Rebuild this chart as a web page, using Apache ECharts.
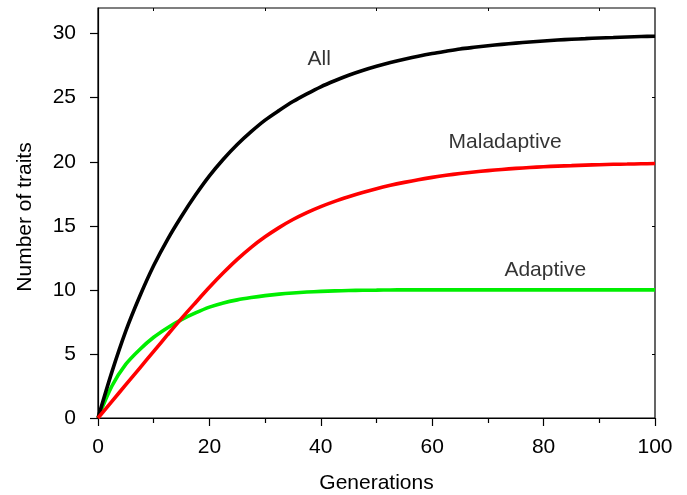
<!DOCTYPE html>
<html><head><meta charset="utf-8">
<script src="https://cdn.jsdelivr.net/npm/echarts@6/dist/echarts.min.js"></script>
<style>html,body{margin:0;padding:0;background:#fff}#c{width:687px;height:495px}</style>
</head><body><div id="c"></div>
<script>
var generations = [0,2.5,5,7.5,10,12.5,15,17.5,20,22.5,25,27.5,30,32.5,35,37.5,40,42.5,45,47.5,50,52.5,55,57.5,60,62.5,65,67.5,70,72.5,75,77.5,80,82.5,85,87.5,90,92.5,95,97.5,100];
var allTraits = [0,3.6,6.8,9.5,11.9,13.95,15.75,17.4,18.9,20.2,21.35,22.35,23.25,24.0,24.7,25.3,25.85,26.32,26.75,27.12,27.45,27.74,28.0,28.24,28.45,28.63,28.8,28.93,29.05,29.16,29.26,29.35,29.43,29.5,29.56,29.61,29.66,29.7,29.74,29.77,29.8];
var maladaptive = [0,1.3,2.6,3.9,5.2,6.5,7.78,9.0,10.2,11.33,12.38,13.32,14.14,14.86,15.49,16.03,16.5,16.91,17.27,17.6,17.9,18.16,18.39,18.6,18.78,18.94,19.08,19.2,19.31,19.4,19.48,19.55,19.61,19.66,19.7,19.74,19.77,19.8,19.82,19.84,19.86];
var adaptive = [0,2.5,4.2,5.35,6.3,7.05,7.68,8.2,8.65,8.98,9.22,9.4,9.55,9.67,9.76,9.83,9.88,9.92,9.95,9.97,9.98,9.99,10,10,10,10,10,10,10,10,10,10,10,10,10,10,10,10,10,10,10];
var yTicks = [0,5,10,15,20,25,30];
var curveLabels = [
  {name:'All', x:39.7, y:28.0},
  {name:'Maladaptive', x:73.1, y:21.5},
  {name:'Adaptive', x:80.3, y:11.55}
];
function pairs(v){ return generations.map(function(g,i){return [g,v[i]];}); }
var font = 'Liberation Sans, Arial, sans-serif';
var chart = echarts.init(document.getElementById('c'), null, {renderer:'canvas'});
chart.setOption({
  animation:false,
  backgroundColor:'#fff',
  grid:{left:98, right:32, top:8, bottom:77, containLabel:false, outerBoundsMode:'none',
        show:true, borderColor:'#000', borderWidth:1.2},
  xAxis:[{
    type:'value', min:0, max:100, interval:20,
    name:'Generations', nameLocation:'middle', nameGap:55,
    nameTextStyle:{color:'#000', fontSize:21, fontFamily:font},
    axisLine:{show:true, onZero:false, lineStyle:{color:'#000', width:1.2}},
    axisTick:{show:true, inside:false, length:8, lineStyle:{color:'#000', width:1.2}},
    minorTick:{show:true, splitNumber:2, length:5, lineStyle:{color:'#000', width:1.2}},
    axisLabel:{color:'#000', fontSize:21, fontFamily:font, margin:19},
    splitLine:{show:false}, minorSplitLine:{show:false}
  },{
    type:'value', min:0, max:100, position:'top',
    axisLine:{show:false, onZero:false},
    axisTick:{show:true, inside:true, length:3, customValues:[10,30,50,70,90], lineStyle:{color:'#000'}},
    axisLabel:{show:false}, splitLine:{show:false}
  }],
  yAxis:[{
    type:'value', min:0, max:32, interval:5,
    name:'Number of traits', nameLocation:'middle', nameGap:62,
    nameTextStyle:{color:'#000', fontSize:21, fontFamily:font, padding:[0,0,0,-8]},
    axisLine:{show:true, onZero:false, lineStyle:{color:'#000', width:1.2}},
    axisTick:{show:true, inside:false, length:8, customValues:yTicks, lineStyle:{color:'#000', width:1.2}},
    axisLabel:{color:'#000', fontSize:21, fontFamily:font, margin:22, customValues:yTicks},
    splitLine:{show:false}
  },{
    type:'value', min:0, max:32, position:'right',
    axisLine:{show:false, onZero:false},
    axisTick:{show:true, inside:true, length:3, customValues:[5,15,25], lineStyle:{color:'#000'}},
    axisLabel:{show:false}, splitLine:{show:false}
  }],
  series:[
    {type:'line', name:'All', data:pairs(allTraits), smooth:0.3, showSymbol:false,
     lineStyle:{color:'#000', width:3.6}, z:3},
    {type:'line', name:'Maladaptive', data:pairs(maladaptive), smooth:0.3, showSymbol:false,
     lineStyle:{color:'#ff0000', width:3.6}, z:3},
    {type:'line', name:'Adaptive', data:pairs(adaptive), smooth:0.3, showSymbol:false,
     lineStyle:{color:'#00ee00', width:3.6}, z:2},
    {type:'scatter', symbolSize:0, silent:true,
     data:curveLabels.map(function(d){return {name:d.name, value:[d.x,d.y]};}),
     label:{show:true, position:'inside', formatter:'{b}', color:'#000', fontSize:21, fontFamily:font}}
  ]
});
</script></body></html>
